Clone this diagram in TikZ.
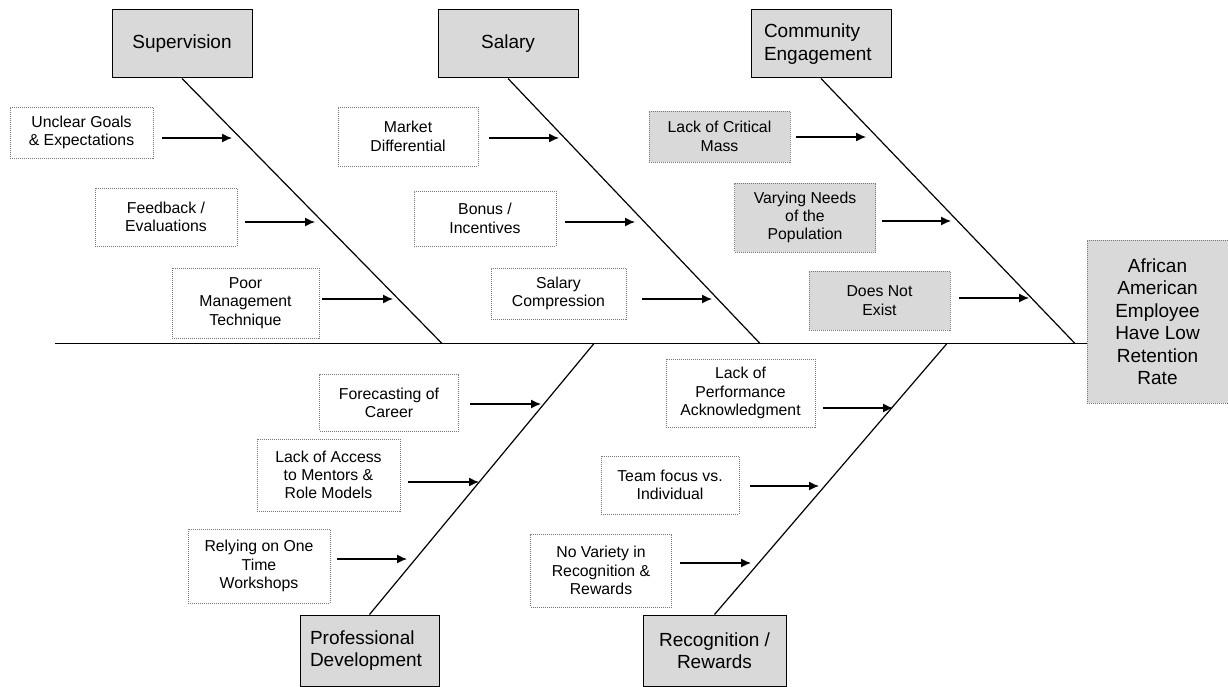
\documentclass[tikz,border=0pt]{standalone}
\usepackage{fontspec}
\setmainfont{Liberation Sans}
\usetikzlibrary{arrows.meta}
\definecolor{catgray}{RGB}{217,217,217}
\definecolor{dotgray}{RGB}{120,120,120}
\tikzset{
  catbox/.style={draw=black, line width=1pt, fill=catgray, inner sep=0pt, align=center,
    font=\fontsize{19}{22.5}\selectfont},
  causebox/.style={draw=dotgray, line width=0.8pt, dash pattern=on 1pt off 1pt, fill=white,
    inner sep=0pt, align=center, font=\fontsize{15.8}{18.3}\selectfont},
  causegray/.style={causebox, fill=catgray},
  effectbox/.style={draw=dotgray, line width=0.8pt, dash pattern=on 1pt off 1pt, fill=catgray,
    inner sep=0pt, align=center, font=\fontsize{19}{22.5}\selectfont},
  bone/.style={line width=1.2pt, black},
  spine/.style={line width=1.5pt, black},
  arr/.style={line width=1.3pt, -{Latex[length=10pt,width=9pt]}},
}
\newcommand{\cbox}[6]{% name, cx, cy, w, h, style
  \node[#6, minimum width=#4pt, minimum height=#5pt] (#1) at (#2,#3)}
\begin{document}
\begin{tikzpicture}[x=1pt,y=-1pt]
\useasboundingbox (0,0) rectangle (1228,687);

% categories
\node[catbox, minimum width=140pt, minimum height=68pt] (sup) at (182,44) {Supervision};
\node[catbox, minimum width=140pt, minimum height=68pt] (sal) at (508,44) {Salary};
\node[catbox, minimum height=68pt, text width=114pt, inner xsep=13pt, align=left] (com) at (821,44) {Community\\Engagement};
\node[catbox, minimum height=71pt, text width=119pt, inner xsep=10pt, align=left] (pro) at (369.5,650.5) {Professional\\Development};
\node[catbox, minimum width=143pt, minimum height=71pt] (rec) at (714.5,650.5) {Recognition /\\Rewards};

% effect
\node[effectbox, minimum width=141pt, minimum height=163pt] (eff) at (1157.5,321.5) {African\\American\\Employee\\Have Low\\Retention\\Rate};

% spine and bones
\coordinate (spineL) at (55,343.5);
\coordinate (b1) at (442,343.5);
\coordinate (b2) at (760,343.5);
\coordinate (b3) at (1075,343.5);
\coordinate (b4) at (594,343.5);
\coordinate (b5) at (947,343.5);
\draw[spine] (spineL) -- (spineL -| eff.west);
\draw[bone] (sup.south) -- (b1);
\draw[bone] (sal.south) -- (b2);
\draw[bone] (com.south) -- (b3);
\draw[bone] (pro.north) -- (b4);
\draw[bone] (rec.north) -- (b5);

% causes
\cbox{c1}{81.5}{132.5}{143}{51}{causebox} {Unclear Goals\\\& Expectations};
\cbox{c2}{166}{217}{142}{58}{causebox} {Feedback /\\Evaluations};
\cbox{c3}{245.5}{303}{147}{70}{causebox} {Poor\\Management\\Technique};
\cbox{c4}{408}{136.5}{140}{59}{causebox} {Market\\Differential};
\cbox{c5}{485}{218.5}{142}{55}{causebox} {Bonus /\\Incentives};
\cbox{c6}{558.5}{293.5}{135}{51}{causebox} {Salary\\Compression};
\cbox{c7}{719.5}{136.5}{141}{51}{causegray} {Lack of Critical\\Mass};
\cbox{c8}{805}{217.5}{141}{69}{causegray} {Varying Needs\\of the\\Population};
\cbox{c9}{879.5}{300.5}{141}{59}{causegray} {Does Not\\Exist};
\cbox{c10}{389}{402.5}{139}{57}{causebox} {Forecasting of\\Career};
\cbox{c11}{328.5}{475}{143}{72}{causebox} {Lack of Access\\to Mentors \&\\Role Models};
\cbox{c12}{259}{566}{142}{74}{causebox} {Relying on One\\Time\\Workshops};
\cbox{c13}{740.5}{393}{149}{68}{causebox} {Lack of\\Performance\\Acknowledgment};
\cbox{c14}{670}{485}{138}{58}{causebox} {Team focus vs.\\Individual};
\cbox{c15}{601}{570.5}{141}{73}{causebox} {No Variety in\\Recognition \&\\Rewards};

% arrows: start coordinates and end coordinates
\foreach \n/\xs/\xe/\yy in {1/162/232/138, 2/245/315/222, 3/322/393/299,
  4/489/559/138, 5/565/635/222, 6/642/712/299,
  7/796/866/137, 8/882/951/221, 9/959/1029/298,
  10/470/541/404, 11/408/479/482, 12/337/407/559,
  13/823/893/408, 14/750/819/486, 15/680/751/563}{
  \coordinate (a\n s) at (\xs,\yy);
  \coordinate (a\n e) at (\xe,\yy);
  \draw[arr] (a\n s) -- (a\n e);
}
\end{tikzpicture}
\end{document}
